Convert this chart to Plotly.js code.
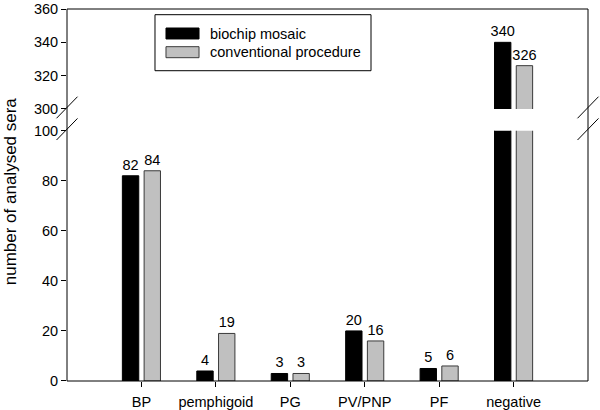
<!DOCTYPE html>
<html>
<head>
<meta charset="utf-8">
<script src="https://cdn.plot.ly/plotly-3.0.1.min.js"></script>
<style>html,body{margin:0;padding:0;background:#fff;}#chart{width:600px;height:410px;}</style>
</head>
<body>
<div id="chart"></div>
<script>
const categories = ["BP", "pemphigoid", "PG", "PV/PNP", "PF", "negative"];
const biochipMosaic = [82, 4, 3, 20, 5, 340];
const conventionalProcedure = [84, 19, 3, 16, 6, 326];
const seriesNames = ["biochip mosaic", "conventional procedure"];
const lowerTicks = [0, 20, 40, 60, 80, 100];
const upperTicks = [300, 320, 340, 360];

const FONT = '"Liberation Sans", Arial, sans-serif';
const FS = 14.5;
const lowText = v => v.map(d => d <= 100 ? String(d) : "");
const upText = v => v.map(d => d >= 300 ? String(d) : "");

function barTrace(vals, yax, textFn, color, lineColor, offset, name) {
  return {
    type: "bar", x: categories, y: vals, yaxis: yax, xaxis: "x", name: name,
    width: 0.22, offset: offset,
    marker: {color: color, line: {color: lineColor, width: 1}},
    text: textFn(vals), textposition: "outside", constraintext: "none",
    textfont: {family: FONT, size: FS, color: "#000"},
    cliponaxis: true, showlegend: false, hoverinfo: "skip"
  };
}

const traces = [
  barTrace(biochipMosaic, "y", lowText, "#000000", "#000000", -0.256, seriesNames[0]),
  barTrace(conventionalProcedure, "y", lowText, "#c0c0c0", "#3a3a3a", 0.036, seriesNames[1]),
  barTrace(biochipMosaic, "y2", upText, "#000000", "#000000", -0.256, seriesNames[0]),
  barTrace(conventionalProcedure, "y2", upText, "#c0c0c0", "#3a3a3a", 0.036, seriesNames[1])
];

const LOW_TOP = 0.6728, UP_BOT = 0.7312;

function slash(xp, yp) {
  return {type: "line", xref: "paper", yref: "paper", xsizemode: "pixel", ysizemode: "pixel",
    xanchor: xp, yanchor: yp, x0: -10.5, x1: 10.5, y0: -9.3, y1: 12.3,
    line: {color: "#000", width: 1}};
}

const axTick = {showline: false, showgrid: false, zeroline: false,
  ticks: "outside", ticklen: 5, tickcolor: "#000", tickwidth: 1,
  ticklabeloverflow: "allow",
  tickfont: {family: FONT, size: FS, color: "#000"}};

const layout = {
  width: 600, height: 410,
  margin: {l: 67, r: 12, t: 9, b: 29},
  paper_bgcolor: "#fff", plot_bgcolor: "#fff",
  font: {family: FONT, size: FS, color: "#000"},
  barmode: "overlay",
  showlegend: false,
  xaxis: Object.assign({type: "category", categoryorder: "array", categoryarray: categories,
    range: [-1, 6], anchor: "y", ticklabelstandoff: 3}, axTick),
  yaxis: Object.assign({domain: [0, LOW_TOP], range: [0, 100], tickmode: "array", tickvals: lowerTicks,
    anchor: "x"}, axTick),
  yaxis2: Object.assign({domain: [UP_BOT, 1], range: [300, 360], tickmode: "array", tickvals: upperTicks,
    anchor: "x"}, axTick),
  shapes: [
    {type: "rect", xref: "paper", yref: "paper", x0: 0, x1: 1, y0: 0, y1: 1,
      line: {color: "#000", width: 1}, fillcolor: "rgba(0,0,0,0)"},
    slash(0, UP_BOT), slash(0, LOW_TOP), slash(1, UP_BOT), slash(1, LOW_TOP),
    {type: "rect", xref: "paper", yref: "paper", x0: 0.1689, x1: 0.5835, y0: 0.8341, y1: 0.9847,
      line: {color: "#000", width: 1}, fillcolor: "#fff"},
    {type: "rect", xref: "paper", yref: "paper", x0: 0.190, x1: 0.2534, y0: 0.9194, y1: 0.9489,
      line: {color: "#000", width: 1}, fillcolor: "#000"},
    {type: "rect", xref: "paper", yref: "paper", x0: 0.190, x1: 0.2534, y0: 0.8691, y1: 0.8987,
      line: {color: "#3a3a3a", width: 1}, fillcolor: "#c0c0c0"}
  ],
  annotations: [
    {xref: "paper", yref: "paper", x: 0.2706, y: 0.9341, xanchor: "left", yanchor: "middle",
      text: seriesNames[0], showarrow: false, font: {family: FONT, size: FS, color: "#000"}},
    {xref: "paper", yref: "paper", x: 0.2706, y: 0.8839, xanchor: "left", yanchor: "middle",
      text: seriesNames[1], showarrow: false, font: {family: FONT, size: FS, color: "#000"}},
    {xref: "paper", yref: "paper", x: 0, xshift: -57, y: 0.51, xanchor: "center", yanchor: "middle",
      text: "number of analysed sera", textangle: -90, showarrow: false,
      font: {family: FONT, size: 17, color: "#000"}}
  ]
};

Plotly.newPlot("chart", traces, layout, {staticPlot: true, displayModeBar: false});
</script>
</body>
</html>
